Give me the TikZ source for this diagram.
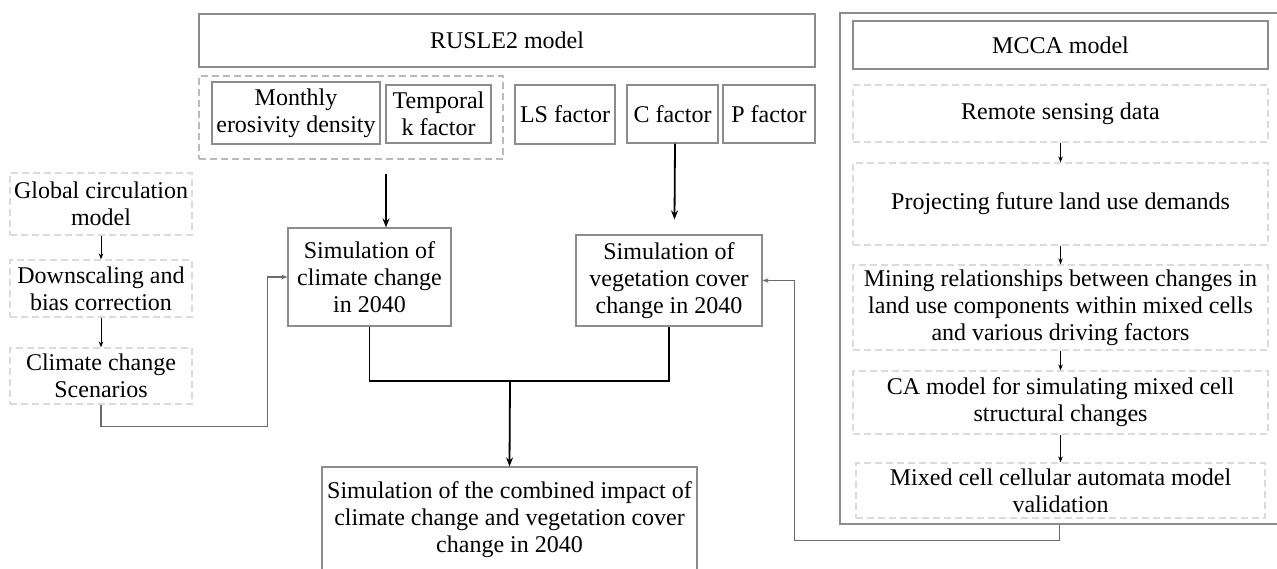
\documentclass[tikz,border=0pt]{standalone}
\usepackage{fontspec}
\setmainfont{Liberation Serif}
\usetikzlibrary{positioning,calc,arrows.meta}
\definecolor{boxgray}{rgb}{0.55, 0.55, 0.55}
\definecolor{dashgray}{rgb}{0.86, 0.86, 0.86}
\definecolor{linegray}{rgb}{0.42, 0.42, 0.42}
\tikzset{
	solidbox/.style={rectangle,draw=boxgray,line width=1.2pt,inner sep=0pt,align=center,font=\fontsize{24}{27}\selectfont},
	dashbox/.style={solidbox,draw=dashgray,dash pattern=on 7pt off 4pt},
	bigarrow/.style={line width=1.8pt,-{Stealth[length=9pt,width=7pt]}},
	bigline/.style={line width=1.8pt},
	smallarrow/.style={line width=1pt,-{Stealth[length=6pt,width=4.5pt]}},
	greyarrow/.style={draw=linegray,line width=1.3pt,-{Stealth[length=6pt,width=4.5pt]}}
}

\begin{document}
\begin{tikzpicture}[x=1pt,y=-1pt]
		\useasboundingbox (0,0) rectangle (1277,568);
		
		% RUSLE2 side
		\node[solidbox,minimum width=616pt,minimum height=53pt] (rusle) at (507,40.5) {RUSLE2 model};
		\node[solidbox,draw=boxgray!60,dash pattern=on 7pt off 4pt,minimum width=304pt,minimum height=83pt] (rgroup) at (351,117.5) {};
		\node[solidbox,minimum width=168pt,minimum height=62pt] (monthly) at (296,113) {Monthly\\erosivity density};
		\node[solidbox,minimum width=105pt,minimum height=58pt] (temporal) at (438.5,114) {Temporal\\k factor};
		\node[solidbox,minimum width=100pt,minimum height=59pt] (lsfac) at (565,114.5) {LS factor};
		\node[solidbox,minimum width=91pt,minimum height=58pt] (cfac) at (672.5,114) {C factor};
		\node[solidbox,minimum width=92pt,minimum height=58pt] (pfac) at (769,114) {P factor};
		
		\node[solidbox,minimum width=163pt,minimum height=98pt] (simclim) at (369.5,277) {Simulation of\\climate change\\in 2040};
		\node[solidbox,minimum width=186pt,minimum height=91pt] (simveg) at (669,280.5) {Simulation of\\vegetation cover\\change in 2040};
		\node[solidbox,minimum width=375pt,minimum height=106pt] (comb) at (509.5,520) {Simulation of the combined impact of\\climate change and vegetation cover\\change in 2040};
		
		% climate chain
		\node[dashbox,minimum width=182pt,minimum height=62pt] (gcm) at (101,204) {Global circulation\\model};
		\node[dashbox,minimum width=182pt,minimum height=57pt] (downsc) at (101,288.5) {Downscaling and\\bias correction};
		\node[dashbox,minimum width=182pt,minimum height=56pt] (scen) at (101,376) {Climate change\\Scenarios};
		
		% MCCA side
		\node[solidbox,minimum width=439pt,minimum height=511pt] (mcca) at (1059.5,268.5) {};
		\node[solidbox,minimum width=415pt,minimum height=48pt] (mccahead) at (1060.5,45) {MCCA model};
		\node[dashbox,minimum width=415pt,minimum height=57pt] (remote) at (1060.5,113.5) {Remote sensing data};
		\node[dashbox,minimum width=415pt,minimum height=82pt] (project) at (1060.5,204) {Projecting future land use demands};
		\node[dashbox,minimum width=415pt,minimum height=85pt] (mining) at (1060.5,307.5) {Mining relationships between changes in\\land use components within mixed cells\\and various driving factors};
		\node[dashbox,minimum width=415pt,minimum height=63pt] (camod) at (1060.5,402.5) {CA model for simulating mixed cell\\structural changes};
		\node[dashbox,minimum width=409pt,minimum height=55pt] (mixed) at (1060.5,490.5) {Mixed cell cellular automata model\\validation};
		
		% connectors
		\draw[bigarrow] ([xshift=35pt,yshift=-14pt]rgroup.south) -- ([xshift=16.5pt]simclim.north);
		\draw[bigarrow] ([xshift=2.5pt]cfac.south) -- ([xshift=5.5pt,yshift=15pt]simveg.north);
		\coordinate (merge) at (510,381);
		\draw[bigline] (simclim.south) |- (merge) -| (simveg.south);
		\draw[bigarrow] (merge) -- (comb.north);
		
		\draw[smallarrow] (gcm.south) -- (downsc.north);
		\draw[smallarrow] (downsc.south) -- (scen.north);
		\draw[greyarrow] (scen.south) -- ++(0,22) -| ([xshift=-20pt]simclim.west) -- (simclim.west);
		
		\draw[smallarrow] (remote.south) -- (project.north);
		\draw[smallarrow] (project.south) -- (mining.north);
		\draw[smallarrow] (mining.south) -- (camod.north);
		\draw[smallarrow] (camod.south) -- (mixed.north);
		\draw[greyarrow] (mcca.south) -- ++(0,16) -| ([xshift=32pt]simveg.east) -- (simveg.east);
		
\end{tikzpicture}
\end{document}
